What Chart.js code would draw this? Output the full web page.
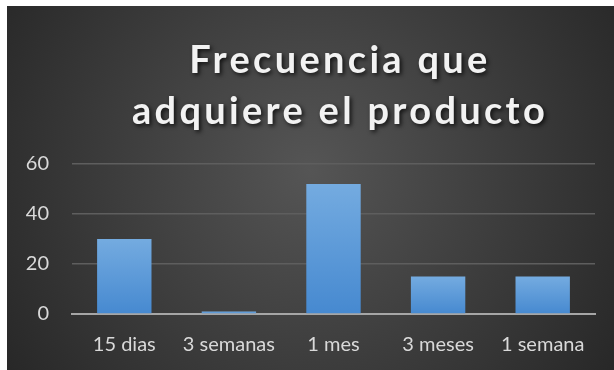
<!DOCTYPE html>
<html>
<head>
<meta charset="utf-8">
<script src="https://cdn.jsdelivr.net/npm/chart.js@4"></script>
<style>
  html, body { margin: 0; padding: 0; background: #fff; }
  #wrap { position: absolute; left: 7px; top: 6px; width: 607px; height: 364px; }
</style>
</head>
<body>
<div id="wrap"><canvas id="chart"></canvas></div>
<script>
// categorias y valores
const categorias = ['15 dias', '3 semanas', '1 mes', '3 meses', '1 semana'];
const valores = [30, 1, 52, 15, 15];
const tituloLineas = ['Frecuencia que', 'adquiere el producto'];
const ticksY = [0, 20, 40, 60];

const ctx = document.getElementById('chart').getContext('2d');

// fondo gris oscuro con degradado radial
const fondo = {
  id: 'fondo',
  beforeDraw(chart) {
    const { ctx, width, height } = chart;
    const g = ctx.createRadialGradient(width * 0.5, height * 0.45, 0, width * 0.5, height * 0.45, width * 0.62);
    g.addColorStop(0, '#555555');
    g.addColorStop(1, '#262626');
    ctx.save();
    ctx.fillStyle = g;
    ctx.fillRect(0, 0, width, height);
    ctx.restore();
  }
};

// titulo en dos lineas, con espaciado y sombra
const titulo = {
  id: 'titulo',
  afterDraw(chart) {
    const c = chart.ctx;
    c.save();
    c.font = 'bold 38px Lato';
    c.letterSpacing = '3.3px';
    c.textAlign = 'center';
    c.textBaseline = 'alphabetic';
    c.fillStyle = '#f2f2f2';
    c.shadowColor = 'rgba(0,0,0,0.75)';
    c.shadowBlur = 4;
    c.shadowOffsetX = 2;
    c.shadowOffsetY = 2;
    c.fillText(tituloLineas[0], 333, 67);
    c.fillText(tituloLineas[1], 333, 118);
    c.restore();
  }
};

// degradado vertical por barra
function colorBarra(context) {
  const chart = context.chart;
  const y = chart.scales.y;
  if (!y || context.raw === undefined) return '#5b9bd5';
  const top = y.getPixelForValue(context.raw);
  const bottom = y.getPixelForValue(0);
  if (!isFinite(top) || !isFinite(bottom)) return '#5b9bd5';
  const g = chart.ctx.createLinearGradient(0, top, 0, bottom);
  g.addColorStop(0, '#74abe0');
  g.addColorStop(1, '#4689d0');
  return g;
}

const chart = new Chart(ctx, {
  type: 'bar',
  data: {
    labels: categorias,
    datasets: [{
      data: valores,
      backgroundColor: colorBarra,
      borderWidth: 0,
      categoryPercentage: 1,
      barPercentage: 0.52
    }]
  },
  options: {
    responsive: true,
    maintainAspectRatio: false,
    animation: false,
    layout: { padding: { top: 158, right: 19, left: 0, bottom: 0 } },
    plugins: {
      legend: { display: false },
      title: { display: false },
      tooltip: { enabled: false }
    },
    scales: {
      x: {
        grid: { display: false, drawTicks: false },
        border: { display: true, color: '#a6a6a6', width: 2 },
        ticks: { color: '#d9d9d9', font: { family: 'Lato', size: 20 }, padding: 19, maxRotation: 0, autoSkip: false },
        afterFit(scale) { scale.height = 56; }
      },
      y: {
        min: 0,
        max: 60,
        afterBuildTicks(scale) { scale.ticks = ticksY.map(v => ({ value: v })); },
        grid: { color: '#5e5e5e', lineWidth: 1.5, drawTicks: false },
        border: { display: false },
        ticks: { color: '#d9d9d9', font: { family: 'Lato', size: 20 }, padding: 23 },
        afterFit(scale) { scale.width = 65; }
      }
    }
  },
  plugins: [fondo, titulo]
});
</script>
</body>
</html>
